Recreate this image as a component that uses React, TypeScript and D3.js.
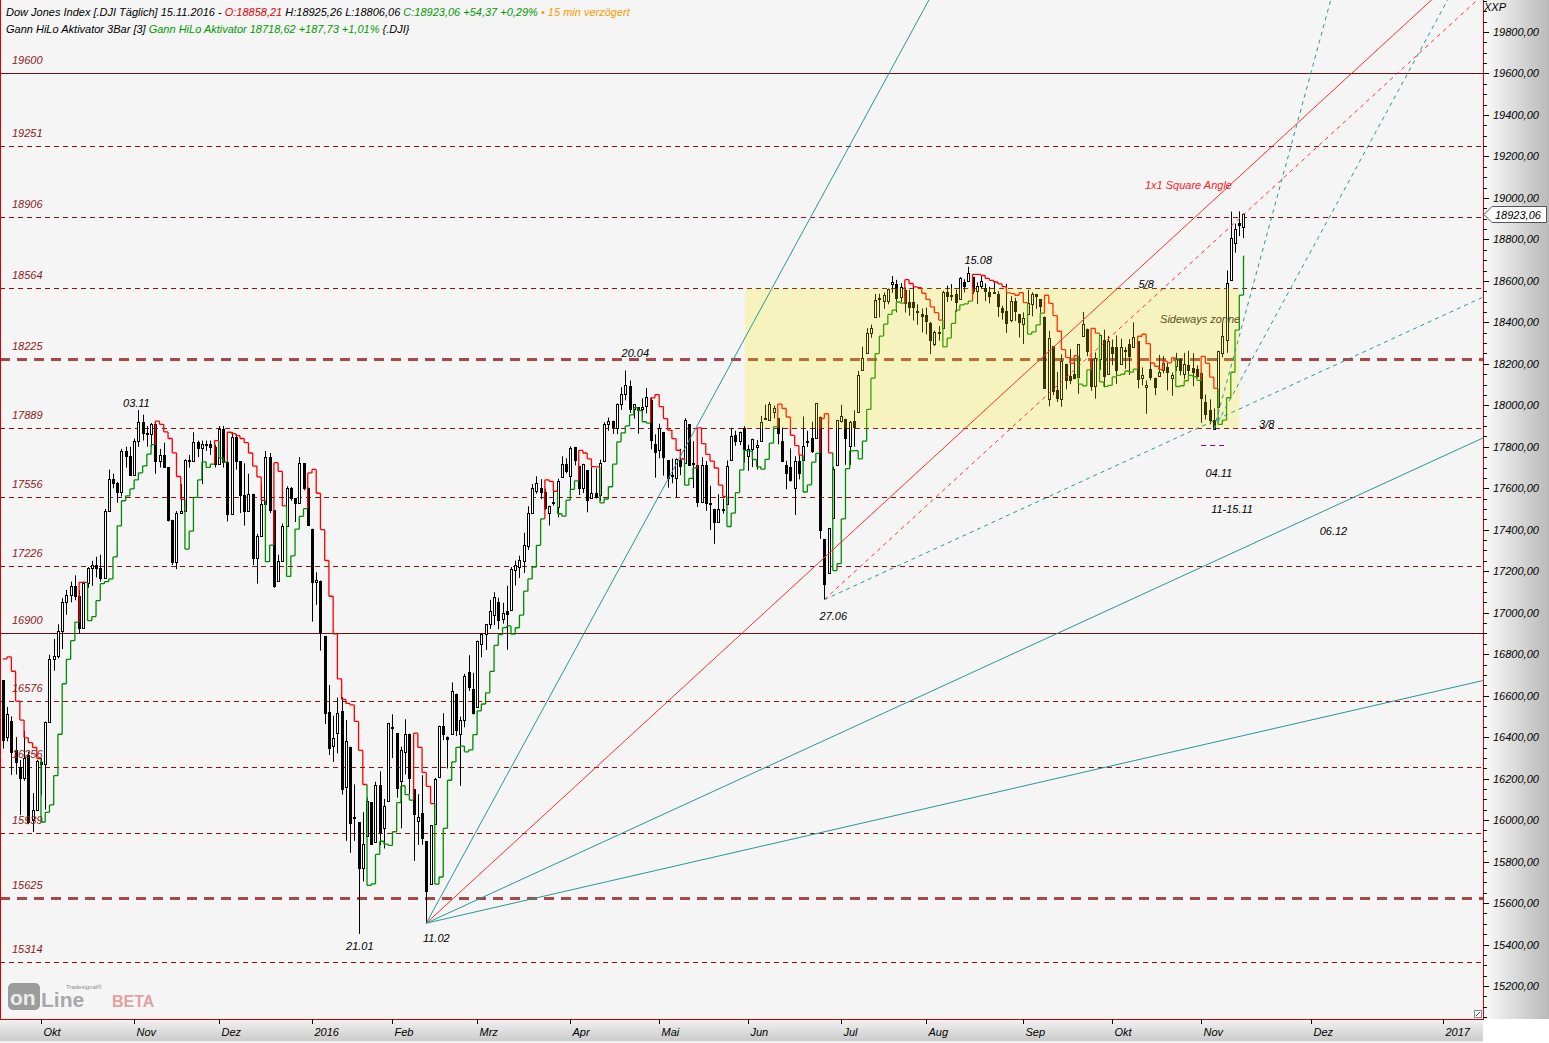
import React, { useEffect } from "react";
import * as d3 from "d3";

// ---------------- DATA (Dow Jones daily OHLC) ----------------
// rows: [day, open, high, low, close]
const sep2015 = [
  [15, 16383, 16644, 16383, 16600], [16, 16600, 16755, 16600, 16739], [17, 16739, 16933, 16622, 16674],
  [18, 16674, 16674, 16345, 16385], [21, 16400, 16546, 16380, 16510], [22, 16478, 16500, 16218, 16330],
  [23, 16340, 16400, 16220, 16280], [24, 16257, 16290, 16024, 16201], [25, 16205, 16430, 16190, 16300],
  [28, 16314, 16330, 15980, 15990], [29, 16000, 16130, 15942, 16049], [30, 16050, 16290, 16050, 16285],
];
const oct2015 = [
  [1, 16280, 16300, 16120, 16272], [2, 16272, 16475, 16050, 16472], [5, 16472, 16797, 16472, 16776],
  [6, 16776, 16873, 16720, 16790], [7, 16790, 16944, 16780, 16912], [8, 16912, 17070, 16825, 17050],
  [9, 17050, 17110, 16990, 17084], [12, 17084, 17150, 17050, 17131], [13, 17131, 17180, 17060, 17081],
  [14, 17081, 17110, 16900, 16924], [15, 16924, 17150, 16924, 17141], [16, 17141, 17220, 17120, 17215],
  [19, 17215, 17250, 17130, 17230], [20, 17230, 17270, 17170, 17217], [21, 17217, 17280, 17150, 17168],
  [22, 17168, 17500, 17168, 17489], [23, 17489, 17690, 17489, 17646], [26, 17646, 17670, 17600, 17623],
  [27, 17623, 17630, 17530, 17581], [28, 17581, 17790, 17560, 17779], [29, 17779, 17800, 17700, 17755],
  [30, 17755, 17800, 17660, 17663],
];
const nov2015 = [
  [2, 17663, 17840, 17663, 17828], [3, 17828, 17977, 17800, 17918], [4, 17918, 17955, 17830, 17867],
  [5, 17867, 17900, 17800, 17863], [6, 17863, 17915, 17800, 17910], [9, 17910, 17910, 17670, 17730],
  [10, 17730, 17790, 17700, 17758], [11, 17758, 17820, 17700, 17702], [12, 17702, 17702, 17440, 17448],
  [13, 17448, 17448, 17230, 17245], [16, 17245, 17490, 17210, 17483], [17, 17483, 17620, 17480, 17489],
  [18, 17489, 17740, 17489, 17737], [19, 17737, 17760, 17700, 17732], [20, 17732, 17870, 17732, 17823],
  [23, 17823, 17830, 17750, 17792], [24, 17792, 17830, 17620, 17812], [25, 17812, 17830, 17780, 17813],
  [27, 17813, 17830, 17760, 17798], [30, 17798, 17810, 17700, 17719],
];
const dec2015 = [
  [1, 17719, 17900, 17719, 17888], [2, 17888, 17900, 17700, 17729], [3, 17729, 17790, 17440, 17477],
  [4, 17477, 17870, 17477, 17847], [7, 17847, 17860, 17690, 17730], [8, 17730, 17730, 17480, 17568],
  [9, 17568, 17720, 17420, 17492], [10, 17492, 17670, 17490, 17574], [11, 17574, 17574, 17230, 17265],
  [14, 17265, 17380, 17140, 17368], [15, 17368, 17620, 17368, 17524], [16, 17524, 17780, 17470, 17749],
  [17, 17749, 17770, 17480, 17495], [18, 17495, 17495, 17120, 17128], [21, 17154, 17280, 17154, 17251],
  [22, 17251, 17430, 17251, 17417], [23, 17417, 17610, 17417, 17602], [24, 17602, 17606, 17540, 17552],
  [28, 17552, 17552, 17437, 17528], [29, 17528, 17750, 17528, 17720], [30, 17720, 17720, 17590, 17603],
  [31, 17603, 17603, 17421, 17425],
];
const jan2016 = [
  [4, 17405, 17405, 16957, 17148], [5, 17147, 17195, 17038, 17158], [6, 17155, 17155, 16817, 16906],
  [7, 16888, 16888, 16463, 16514], [8, 16519, 16651, 16314, 16346], [11, 16358, 16503, 16280, 16398],
  [12, 16420, 16591, 16322, 16516], [13, 16526, 16593, 16123, 16151], [14, 16159, 16482, 15900, 16379],
  [15, 16354, 16354, 15842, 15988], [19, 16009, 16172, 15900, 16016], [20, 15989, 15989, 15451, 15767],
  [21, 15768, 16038, 15704, 15883], [22, 15921, 16108, 15921, 16094], [25, 16086, 16086, 15880, 15885],
  [26, 15893, 16185, 15893, 16167], [27, 16168, 16235, 15878, 15944], [28, 15960, 16102, 15863, 16070],
  [29, 16090, 16466, 16090, 16466],
];
const feb2016 = [
  [1, 16450, 16510, 16299, 16449], [2, 16420, 16420, 16108, 16154], [3, 16187, 16354, 15960, 16337],
  [4, 16329, 16486, 16220, 16417], [5, 16417, 16417, 16125, 16205], [8, 16148, 16148, 15803, 16027],
  [9, 15997, 16125, 15880, 16014], [10, 16036, 16216, 15881, 15915], [11, 15898, 15898, 15503, 15660],
  [12, 15691, 15974, 15691, 15974], [16, 15983, 16204, 15983, 16196], [17, 16207, 16455, 16207, 16454],
  [18, 16454, 16515, 16386, 16413], [19, 16403, 16403, 16249, 16392], [22, 16417, 16664, 16417, 16621],
  [23, 16610, 16610, 16405, 16432], [24, 16413, 16499, 16165, 16485], [25, 16485, 16705, 16447, 16697],
  [26, 16712, 16795, 16623, 16640], [29, 16634, 16710, 16510, 16517],
];
const mar2016 = [
  [1, 16546, 16865, 16546, 16865], [2, 16851, 16900, 16785, 16899], [3, 16896, 16945, 16820, 16944],
  [4, 16945, 17062, 16922, 17007], [7, 16991, 17099, 16940, 17074], [8, 17050, 17072, 16921, 16964],
  [9, 16969, 17048, 16947, 17000], [10, 17006, 17130, 16821, 16995], [11, 17014, 17220, 17014, 17213],
  [14, 17207, 17251, 17131, 17229], [15, 17218, 17275, 17167, 17252], [16, 17251, 17386, 17191, 17326],
  [17, 17321, 17513, 17303, 17481], [18, 17481, 17620, 17481, 17602], [21, 17589, 17658, 17574, 17624],
  [22, 17599, 17644, 17547, 17583], [23, 17584, 17597, 17495, 17503], [24, 17480, 17516, 17420, 17516],
  [28, 17527, 17586, 17516, 17535], [29, 17512, 17646, 17460, 17633], [30, 17652, 17754, 17652, 17717],
  [31, 17716, 17745, 17672, 17685],
];
const apr2016 = [
  [1, 17661, 17802, 17584, 17793], [4, 17800, 17800, 17710, 17737], [5, 17708, 17708, 17567, 17603],
  [6, 17601, 17718, 17577, 17716], [7, 17688, 17688, 17484, 17542], [8, 17555, 17704, 17555, 17577],
  [11, 17577, 17696, 17551, 17556], [12, 17568, 17738, 17539, 17721], [13, 17732, 17918, 17732, 17908],
  [14, 17912, 17941, 17877, 17926], [15, 17925, 17926, 17862, 17897], [18, 17891, 18009, 17861, 18004],
  [19, 18008, 18087, 17978, 18054], [20, 18056, 18168, 18024, 18096], [21, 18095, 18120, 17963, 17983],
  [22, 17981, 18005, 17936, 18004], [25, 17990, 17990, 17863, 17977], [26, 17980, 18034, 17944, 17990],
  [27, 17995, 18084, 17961, 18042], [28, 18026, 18037, 17788, 17831], [29, 17813, 17860, 17651, 17774],
];
const may2016 = [
  [2, 17783, 17911, 17744, 17891], [3, 17871, 17871, 17661, 17751], [4, 17736, 17736, 17603, 17651],
  [5, 17664, 17743, 17624, 17661], [6, 17650, 17744, 17557, 17741], [9, 17736, 17790, 17663, 17706],
  [10, 17723, 17938, 17723, 17928], [11, 17908, 17908, 17709, 17711], [12, 17722, 17827, 17601, 17721],
  [13, 17712, 17712, 17510, 17535], [16, 17536, 17750, 17536, 17711], [17, 17711, 17731, 17491, 17530],
  [18, 17524, 17612, 17399, 17527], [19, 17501, 17501, 17332, 17435], [20, 17437, 17571, 17437, 17501],
  [23, 17501, 17550, 17478, 17493], [24, 17525, 17734, 17525, 17706], [25, 17735, 17891, 17735, 17852],
  [26, 17859, 17877, 17805, 17828], [27, 17827, 17873, 17808, 17873], [31, 17891, 17899, 17724, 17787],
];
const jun2016 = [
  [1, 17755, 17810, 17684, 17790], [2, 17790, 17839, 17702, 17839], [3, 17799, 17833, 17690, 17807],
  [6, 17826, 17949, 17826, 17920], [7, 17936, 18003, 17936, 17938], [8, 17931, 18016, 17931, 18005],
  [9, 17969, 17999, 17937, 17985], [10, 17939, 17939, 17812, 17865], [13, 17830, 17893, 17731, 17732],
  [14, 17711, 17733, 17595, 17675], [15, 17704, 17792, 17632, 17640], [16, 17603, 17754, 17471, 17733],
  [17, 17733, 17762, 17643, 17675], [20, 17736, 17946, 17736, 17805], [21, 17827, 17877, 17799, 17830],
  [22, 17844, 17921, 17770, 17781], [23, 17844, 18011, 17844, 18011], [24, 17946, 17946, 17356, 17401],
  [27, 17355, 17355, 17063, 17140], [28, 17190, 17409, 17190, 17410], [29, 17456, 17704, 17456, 17695],
  [30, 17713, 17930, 17711, 17930],
];
const jul2016 = [
  [1, 17924, 18002, 17917, 17949], [5, 17935, 17935, 17713, 17841], [6, 17803, 17925, 17713, 17919],
  [7, 17924, 17976, 17800, 17896], [8, 17968, 18166, 17968, 18147], [11, 18172, 18283, 18172, 18227],
  [12, 18252, 18372, 18252, 18348], [13, 18349, 18389, 18325, 18372], [14, 18425, 18537, 18425, 18506],
  [15, 18514, 18538, 18424, 18517], [18, 18504, 18544, 18465, 18533], [19, 18503, 18563, 18487, 18559],
  [20, 18583, 18623, 18542, 18595], [21, 18583, 18605, 18448, 18517], [22, 18524, 18589, 18499, 18571],
  [25, 18554, 18568, 18447, 18493], [26, 18500, 18556, 18432, 18474], [27, 18498, 18578, 18409, 18472],
  [28, 18452, 18487, 18388, 18456], [29, 18438, 18467, 18351, 18432],
];
const aug2016 = [
  [1, 18434, 18471, 18342, 18405], [2, 18399, 18402, 18247, 18314], [3, 18295, 18360, 18286, 18355],
  [4, 18352, 18382, 18312, 18352], [5, 18375, 18552, 18375, 18544], [8, 18544, 18577, 18498, 18529],
  [9, 18528, 18585, 18504, 18533], [10, 18536, 18559, 18450, 18496], [11, 18514, 18618, 18514, 18614],
  [12, 18594, 18608, 18544, 18576], [15, 18601, 18668, 18601, 18636], [16, 18617, 18617, 18536, 18552],
  [17, 18550, 18593, 18489, 18574], [18, 18577, 18625, 18565, 18598], [19, 18566, 18588, 18502, 18553],
  [22, 18545, 18571, 18491, 18529], [23, 18547, 18597, 18539, 18547], [24, 18536, 18550, 18426, 18481],
  [25, 18470, 18480, 18413, 18448], [26, 18457, 18586, 18349, 18395], [29, 18412, 18526, 18400, 18503],
  [30, 18504, 18518, 18407, 18454], [31, 18440, 18440, 18327, 18401],
];
const sep2016 = [
  [1, 18393, 18448, 18295, 18419], [2, 18439, 18558, 18439, 18492], [6, 18490, 18545, 18429, 18538],
  [7, 18535, 18536, 18465, 18526], [8, 18511, 18511, 18446, 18480], [9, 18428, 18428, 18083, 18085],
  [12, 18031, 18359, 17995, 18325], [13, 18284, 18284, 18049, 18067], [14, 18076, 18161, 18016, 18035],
  [15, 18032, 18246, 17993, 18212], [16, 18200, 18200, 18077, 18124], [19, 18140, 18271, 18102, 18120],
  [20, 18150, 18229, 18126, 18130], [21, 18138, 18294, 18055, 18294], [22, 18332, 18450, 18332, 18392],
  [23, 18370, 18370, 18237, 18261], [26, 18225, 18225, 18070, 18095], [27, 18094, 18255, 18032, 18228],
  [28, 18225, 18339, 18171, 18339], [29, 18315, 18365, 18086, 18143], [30, 18153, 18335, 18153, 18308],
];
const oct2016 = [
  [3, 18282, 18317, 18193, 18254], [4, 18280, 18337, 18103, 18168], [5, 18200, 18321, 18200, 18281],
  [6, 18266, 18280, 18176, 18269], [7, 18296, 18319, 18146, 18240], [10, 18283, 18400, 18283, 18329],
  [11, 18309, 18309, 18082, 18129], [12, 18132, 18183, 18096, 18144], [13, 18088, 18120, 17959, 18099],
  [14, 18177, 18262, 18121, 18138], [17, 18132, 18133, 18049, 18086], [18, 18139, 18243, 18139, 18162],
  [19, 18172, 18238, 18154, 18203], [20, 18184, 18206, 18072, 18162], [21, 18132, 18158, 18046, 18146],
  [24, 18189, 18253, 18165, 18223], [25, 18221, 18227, 18144, 18169], [26, 18151, 18253, 18125, 18199],
  [27, 18196, 18263, 18144, 18170], [28, 18178, 18251, 18092, 18161], [31, 18177, 18193, 18132, 18142],
];
const nov2016 = [
  [1, 18158, 18163, 17915, 18037], [2, 18018, 18052, 17931, 17960], [3, 17979, 18029, 17908, 17931],
  [4, 17929, 17985, 17884, 17888], [7, 17994, 18263, 17994, 18260], [8, 18251, 18400, 18231, 18333],
  [9, 18317, 18650, 18253, 18590], [10, 18604, 18934, 18604, 18808], [11, 18782, 18876, 18736, 18848],
  [14, 18877, 18935, 18816, 18869], [15, 18858, 18925, 18806, 18923],
];

const MONTHS: [number, number, number[][]][] = [
  [2015, 9, sep2015], [2015, 10, oct2015], [2015, 11, nov2015], [2015, 12, dec2015],
  [2016, 1, jan2016], [2016, 2, feb2016], [2016, 3, mar2016], [2016, 4, apr2016],
  [2016, 5, may2016], [2016, 6, jun2016], [2016, 7, jul2016], [2016, 8, aug2016],
  [2016, 9, sep2016], [2016, 10, oct2016], [2016, 11, nov2016],
];

// Horizontal price levels
const LEVELS = [19600, 19251, 18906, 18564, 18225, 17889, 17556, 17226, 16900, 16576, 16256, 15939, 15625, 15314];
const SOLID_LEVELS = [19600, 16900];
const THICK_LEVELS = [18225, 15625];

// Month axis
const TICK_DATES = ["2015-10-01", "2015-11-01", "2015-12-01", "2016-01-01", "2016-02-01", "2016-03-01", "2016-04-01",
  "2016-05-01", "2016-06-01", "2016-07-01", "2016-08-01", "2016-09-01", "2016-10-01", "2016-11-01", "2016-12-01", "2017-01-01"];
const TICK_LABELS = ["Okt", "Nov", "Dez", "2016", "Feb", "Mrz", "Apr", "Mai", "Jun", "Jul", "Aug", "Sep", "Okt", "Nov", "Dez", "2017"];

// Gann fans: anchor date, anchor price, angle ratios (1 = 1x1)
const GANN_UNIT = 18.75; // points per bar for 1x1
const FANS = [
  { date: "2016-02-11", price: 15503, ratios: [2, 1, 0.5, 0.25], dashed: false },
  { date: "2016-06-27", price: 17063, ratios: [1, 0.5], dashed: true },
  { date: "2016-11-04", price: 17884, ratios: [4, 2], dashed: true },
];

// Sideways zone
const ZONE = { from: "2016-05-31", to: "2016-11-14", low: 17889, high: 18564 };

// Text annotations
const NOTES = [
  { text: "03.11", date: "2015-11-03", price: 17992, dx: -2, color: "#000" },
  { text: "20.04", date: "2016-04-20", price: 18233, dx: 10, color: "#000" },
  { text: "15.08", date: "2016-08-15", price: 18681, dx: 10, color: "#000" },
  { text: "27.06", date: "2016-06-27", price: 16965, dx: 9, color: "#000" },
  { text: "21.01", date: "2016-01-21", price: 15374, dx: -3, color: "#000" },
  { text: "11.02", date: "2016-02-11", price: 15413, dx: 10, color: "#000" },
  { text: "04.11", date: "2016-11-04", price: 17653, dx: 5, color: "#000" },
  { text: "11-15.11", date: "2016-11-11", price: 17481, dx: -3, color: "#000" },
  { text: "06.12", date: "2016-12-06", price: 17375, dx: 1, color: "#000" },
  { text: "5/8", date: "2016-10-13", price: 18566, dx: 0, color: "#000" },
  { text: "3/8", date: "2016-11-20", price: 17891, dx: 2, color: "#000" },
  { text: "Sideways zonne", date: "2016-11-01", price: 18397, dx: -1, color: "#5a5018" },
  { text: "1x1 Square Angle", date: "2016-10-27", price: 19043, dx: 0, color: "#ff2020" },
];
const MARKER = { from: "2016-11-01", to: "2016-11-09", price: 17809 };

// ---------------- layout ----------------
const W = 1549;
const H = 1043;
const PR = 1483; // plot right
const PB = 1019; // plot bottom
const FONT = "'Liberation Sans', Arial, sans-serif";

type Bar = { t: number; o: number; h: number; l: number; c: number };
const DAY = 86400000;
const BARS: Bar[] = [];
for (const [yr, mo, rows] of MONTHS) {
  for (const r of rows) BARS.push({ t: Date.UTC(yr, mo - 1, r[0]), o: r[1], h: r[2], l: r[3], c: r[4] });
}
function slotOf(s: string): number {
  const t = Date.parse(s + "T00:00:00Z");
  const last = BARS[BARS.length - 1];
  if (t > last.t) return BARS.length - 1 + Math.round((t - last.t) / DAY);
  return BARS.findIndex((b) => b.t >= t);
}

const x = d3.scaleLinear().domain([slotOf("2015-10-01"), slotOf("2017-01-01")]).range([41, 1442.5]);
const y = d3.scaleLinear().domain([15200, 19800]).range([986, 32]);

function hiloPaths() {
  const vals: { i: number; v: number; up: boolean }[] = [];
  let up = false;
  for (let i = 3; i < BARS.length; i++) {
    const hi = (BARS[i - 1].h + BARS[i - 2].h + BARS[i - 3].h) / 3;
    const lo = (BARS[i - 1].l + BARS[i - 2].l + BARS[i - 3].l) / 3;
    if (BARS[i].c > hi) up = true;
    else if (BARS[i].c < lo) up = false;
    vals.push({ i, v: up ? lo : hi, up });
  }
  const red = d3.path();
  const green = d3.path();
  for (let k = 0; k < vals.length; k++) {
    const a = vals[k];
    const xa = x(a.i);
    const xb = k < vals.length - 1 ? x(vals[k + 1].i) : x(a.i) + 1;
    const p = a.up ? green : red;
    p.moveTo(xa, y(a.v));
    p.lineTo(xb, y(a.v));
    if (k < vals.length - 1) {
      const b = vals[k + 1];
      const q = b.up ? green : red;
      q.moveTo(xb, y(a.v));
      q.lineTo(xb, y(b.v));
    }
  }
  return { red: red.toString(), green: green.toString() };
}

const fmtAxis = (v: number) => v.toFixed(2).replace(".", ",");

export default function App() {
  useEffect(() => {
    document.body.style.margin = "0";
  }, []);

  const hl = hiloPaths();
  const last = BARS[BARS.length - 1];
  const minor = d3.range(15050, 19951, 50);
  const major = d3.range(15200, 19801, 200);
  const zx0 = x(slotOf(ZONE.from)) + 1;
  const zx1 = x(slotOf(ZONE.to));

  return (
    <svg width={W} height={H} style={{ position: "absolute", left: 0, top: 0, display: "block" }} fontFamily={FONT}>
      <defs>
        <clipPath id="plotClip">
          <rect x={1} y={0} width={PR - 1} height={PB} />
        </clipPath>
        <linearGradient id="gRight" x1="0" x2="1" y1="0" y2="0">
          <stop offset="0" stopColor="#fbfbfb" />
          <stop offset="1" stopColor="#b9b9b9" />
        </linearGradient>
        <linearGradient id="gBottom" x1="0" x2="0" y1="0" y2="1">
          <stop offset="0" stopColor="#f3f3f3" />
          <stop offset="1" stopColor="#cbcbcb" />
        </linearGradient>
      </defs>

      <rect x={0} y={0} width={W} height={H} fill="#ffffff" />
      <rect x={0} y={0} width={PR} height={PB} fill="#f5f5f5" />
      <rect x={PR} y={0} width={W - PR} height={PB} fill="url(#gRight)" />
      <rect x={0} y={PB} width={PR} height={22} fill="url(#gBottom)" />
      <rect x={0} y={PB + 22} width={PR} height={H - PB - 22} fill="#f0f0f0" />

      <g clipPath="url(#plotClip)">
        {/* horizontal levels */}
        {LEVELS.map((v) => {
          const solid = SOLID_LEVELS.includes(v);
          const thick = THICK_LEVELS.includes(v);
          const yy = Math.round(y(v)) + 0.5;
          return (
            <line
              key={"lv" + v}
              x1={0}
              x2={PR}
              y1={yy}
              y2={yy}
              stroke={solid ? "#6e1010" : thick ? "#9b2b2b" : "#8b1010"}
              strokeWidth={thick ? 3 : 1}
              strokeDasharray={solid ? undefined : thick ? "10 7" : "5 4"}
              opacity={thick ? 0.85 : 1}
            />
          );
        })}

        {/* candles */}
        {BARS.map((b, i) => {
          const ci = Math.round(x(i));
          const top = Math.round(y(Math.max(b.o, b.c)));
          const bot = Math.round(y(Math.min(b.o, b.c)));
          const up = b.c >= b.o;
          return (
            <g key={"c" + i}>
              <line x1={ci + 0.5} x2={ci + 0.5} y1={y(b.h)} y2={y(b.l)} stroke="#000" strokeWidth={1} />
              <rect
                x={ci - 0.5}
                y={top + 0.5}
                width={2}
                height={Math.max(1, bot - top)}
                fill={up ? "#ffffff" : "#000000"}
                stroke="#000"
                strokeWidth={1}
              />
            </g>
          );
        })}

        {/* Gann HiLo activator */}
        <path d={hl.red} stroke="#ff0000" strokeWidth={1.3} fill="none" />
        <path d={hl.green} stroke="#008c00" strokeWidth={1.3} fill="none" />

        {/* sideways zone overlay */}
        <rect x={zx0} y={y(ZONE.high)} width={zx1 - zx0} height={y(ZONE.low) - y(ZONE.high)} fill="#ffeb00" opacity={0.22} />

        {/* Gann fans */}
        {FANS.map((f, fi) => {
          const s0 = slotOf(f.date);
          return f.ratios.map((r) => {
            const s1 = s0 + 500;
            return (
              <line
                key={"fan" + fi + "-" + r}
                x1={x(s0)}
                y1={y(f.price)}
                x2={x(s1)}
                y2={y(f.price + r * GANN_UNIT * (s1 - s0))}
                stroke={r === 1 ? "#ff3030" : "#2a9696"}
                strokeWidth={1}
                strokeDasharray={f.dashed ? "4 4" : undefined}
              />
            );
          });
        })}

        {/* marker under 04.11 */}
        <line
          x1={x(slotOf(MARKER.from))}
          x2={x(slotOf(MARKER.to))}
          y1={Math.round(y(MARKER.price)) + 0.5}
          y2={Math.round(y(MARKER.price)) + 0.5}
          stroke="#800080"
          strokeDasharray="5 4"
        />
      </g>

      {/* level labels */}
      {LEVELS.map((v) => (
        <text key={"lt" + v} x={12} y={y(v) - 9} fontSize={11} fontStyle="italic" fill="#8b1a1a">
          {v}
        </text>
      ))}

      {/* annotations */}
      {NOTES.map((n) => (
        <text
          key={"n" + n.text}
          x={x(slotOf(n.date)) + n.dx}
          y={y(n.price)}
          fontSize={11}
          fontStyle="italic"
          fill={n.color}
          textAnchor="middle"
        >
          {n.text}
        </text>
      ))}

      {/* frame */}
      <line x1={0.5} x2={0.5} y1={0} y2={PB} stroke="#e00000" />
      <line x1={0} x2={PR} y1={PB + 0.5} y2={PB + 0.5} stroke="#cc0000" />
      <line x1={PR + 0.5} x2={PR + 0.5} y1={0} y2={PB + 1} stroke="#e00000" />
      <rect x={PR - 8.5} y={PB - 8.5} width={7} height={7} fill="#fff" stroke="#888" />
      <line x1={PR - 7} x2={PR - 3} y1={PB - 3} y2={PB - 7} stroke="#555" />

      {/* right axis */}
      {minor.map((v) => (
        <line key={"mt" + v} x1={PR} x2={PR + (major.includes(v) ? 6 : 4)} y1={Math.round(y(v)) + 0.5} y2={Math.round(y(v)) + 0.5} stroke="#000" />
      ))}
      {major.map((v) => (
        <text key={"ma" + v} x={1493} y={y(v) + 4} fontSize={11} fontStyle="italic" fill="#000">
          {fmtAxis(v)}
        </text>
      ))}
      <text x={1484} y={11} fontSize={11} fontStyle="italic" fill="#000">XXP</text>

      {/* price tag */}
      {(() => {
        const yy = Math.round(y(last.c)) + 0.5;
        return (
          <g>
            <path
              d={`M${PR + 1},${yy} L${PR + 9},${yy - 8} L${W - 2.5},${yy - 8} L${W - 2.5},${yy + 8} L${PR + 9},${yy + 8} Z`}
              fill="#ffffff"
              stroke="#555"
            />
            <text x={1495} y={yy + 4} fontSize={11} fontStyle="italic" fill="#000">
              {fmtAxis(18923.06)}
            </text>
          </g>
        );
      })()}

      {/* bottom axis */}
      {TICK_DATES.map((d, i) => {
        const xx = Math.round(x(slotOf(d))) + 0.5;
        return (
          <g key={"xt" + d}>
            <line x1={xx} x2={xx} y1={PB} y2={PB + 5} stroke="#000" />
            <text x={xx + 2} y={PB + 17} fontSize={11} fontStyle="italic" fill="#000">
              {TICK_LABELS[i]}
            </text>
          </g>
        );
      })}

      {/* header */}
      <text x={6} y={16} fontSize={11} fontStyle="italic" fill="#000">
        <tspan>Dow Jones Index [.DJI Täglich] 15.11.2016 - </tspan>
        <tspan fill="#e00000">O:18858,21</tspan>
        <tspan> H:18925,26 L:18806,06 </tspan>
        <tspan fill="#009a00">C:18923,06 +54,37 +0,29%</tspan>
        <tspan fill="#ff9900"> • 15 min verzögert</tspan>
      </text>
      <text x={6} y={33} fontSize={11} fontStyle="italic" fill="#000">
        <tspan>Gann HiLo Aktivator 3Bar [3] </tspan>
        <tspan fill="#009a00">Gann HiLo Aktivator 18718,62 +187,73 +1,01%</tspan>
        <tspan> {"{.DJI}"}</tspan>
      </text>

      {/* logo */}
      <g>
        <rect x={8} y={983} width={32} height={27} rx={5} fill="#9c9c9c" />
        <text x={10} y={1005} fontSize={21} fontWeight="bold" fill="#ececec">on</text>
        <text x={41} y={1007} fontSize={21} fontWeight="bold" fill="#a8a8a8">Line</text>
        <text x={112} y={1007} fontSize={16} fontWeight="bold" fill="#e6a0a0">BETA</text>
        <text x={66} y={989} fontSize={6} fill="#8c8c8c">Tradesignal®</text>
      </g>
    </svg>
  );
}
